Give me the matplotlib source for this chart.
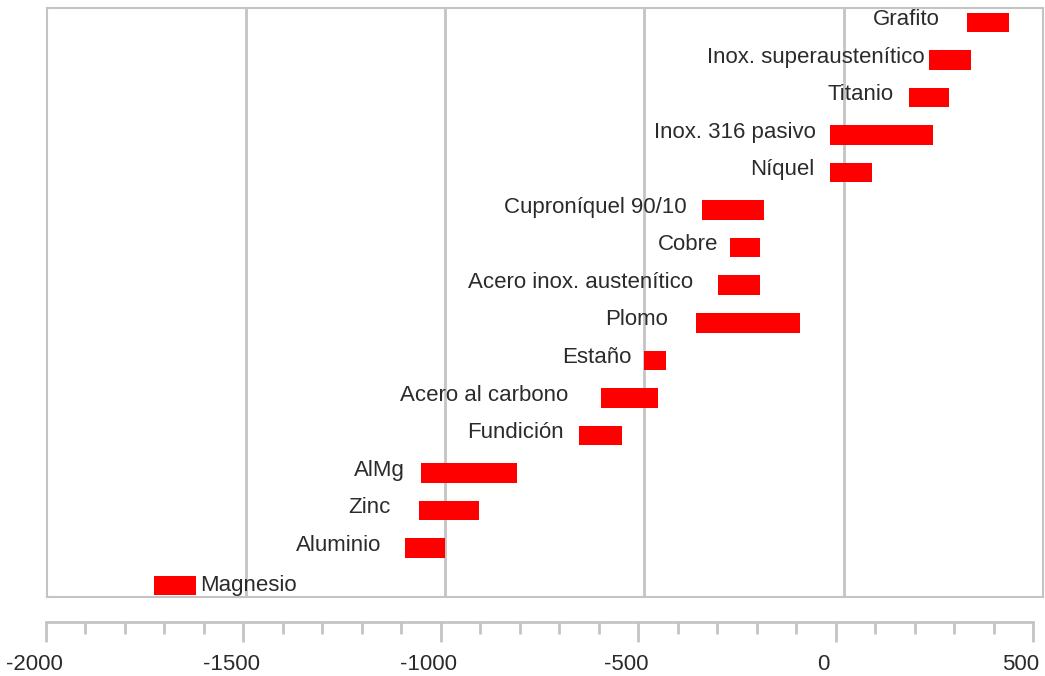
import matplotlib.pyplot as plt
from matplotlib.ticker import MultipleLocator
from matplotlib.transforms import ScaledTranslation

plt.rcParams['font.family'] = ['Liberation Sans', 'DejaVu Sans']
plt.rcParams['axes.unicode_minus'] = False

# potential range (mV) for each material, top to bottom
materials = ["Grafito", "Inox. superaustenítico", "Titanio", "Inox. 316 pasivo",
             "Níquel", "Cuproníquel 90/10", "Cobre", "Acero inox. austenítico",
             "Plomo", "Estaño", "Acero al carbono", "Fundición", "AlMg", "Zinc",
             "Aluminio", "Magnesio"]
low = [310, 215, 165, -35, -35, -355, -285, -315, -370, -500, -610, -665,
       -1060, -1065, -1100, -1730]
high = [415, 320, 265, 225, 70, -200, -210, -210, -110, -445, -465, -555,
        -820, -915, -1000, -1625]

# label placement (pixels from the bar end), Magnesio goes on the right
label_pad = [28, 5, 16, 14, 15, 16, 12, 25, 28, 13, 32, 15, 16, 29, 24, 4]
label_right = [False] * 15 + [True]

grey = '#c4c4c4'
text_col = '#2b2b2b'

fig = plt.figure(figsize=(10.45, 6.76), dpi=100)
ax = fig.add_axes([46.5 / 1045, 1 - 597 / 676, 996.5 / 1045, 589 / 676])

pos = list(range(len(materials)))
widths = [h - l for l, h in zip(low, high)]
ax.barh(pos, widths, left=low, height=0.52, color='#ff0000', zorder=3)

for i, name in enumerate(materials):
    px = label_pad[i] * 0.72
    if label_right[i]:
        ax.annotate(name, xy=(high[i], i), xytext=(px, 0), textcoords='offset points',
                    ha='left', va='center', fontsize=16, color=text_col)
    else:
        ax.annotate(name, xy=(low[i], i), xytext=(-px, 2), textcoords='offset points',
                    ha='right', va='center', fontsize=16, color=text_col)

ax.set_xlim(-2000, 500)
ax.set_ylim(15.31, -0.39)
ax.set_xticks([-1500, -1000, -500, 0])
ax.set_yticks([])
ax.grid(axis='x', color=grey, linewidth=2)
ax.tick_params(length=0, labelbottom=False)
for s in ax.spines.values():
    s.set_color(grey)
    s.set_linewidth(1.5)

# detached axis with the scale
ax2 = fig.add_axes([46 / 1045, 1 - 622 / 676, 987 / 1045, 0.0001])
ax2.set_xlim(-2000, 500)
ax2.patch.set_visible(False)
for side in ['top', 'left', 'right']:
    ax2.spines[side].set_visible(False)
ax2.spines['bottom'].set_color(grey)
ax2.spines['bottom'].set_linewidth(2)
ax2.set_yticks([])
ax2.set_xticks([-2000, -1500, -1000, -500, 0, 500])
ax2.xaxis.set_minor_locator(MultipleLocator(100))
ax2.tick_params(axis='x', which='major', length=14.4, width=2, color=grey,
                labelsize=16, labelcolor=text_col, pad=9)
ax2.tick_params(axis='x', which='minor', length=8.6, width=2, color=grey)

# the numbers sit a little left of their ticks
shift = ScaledTranslation(-12 / 100, 0, fig.dpi_scale_trans)
for lab in ax2.get_xticklabels():
    lab.set_transform(lab.get_transform() + shift)

fig.savefig('out.png', dpi=100)
